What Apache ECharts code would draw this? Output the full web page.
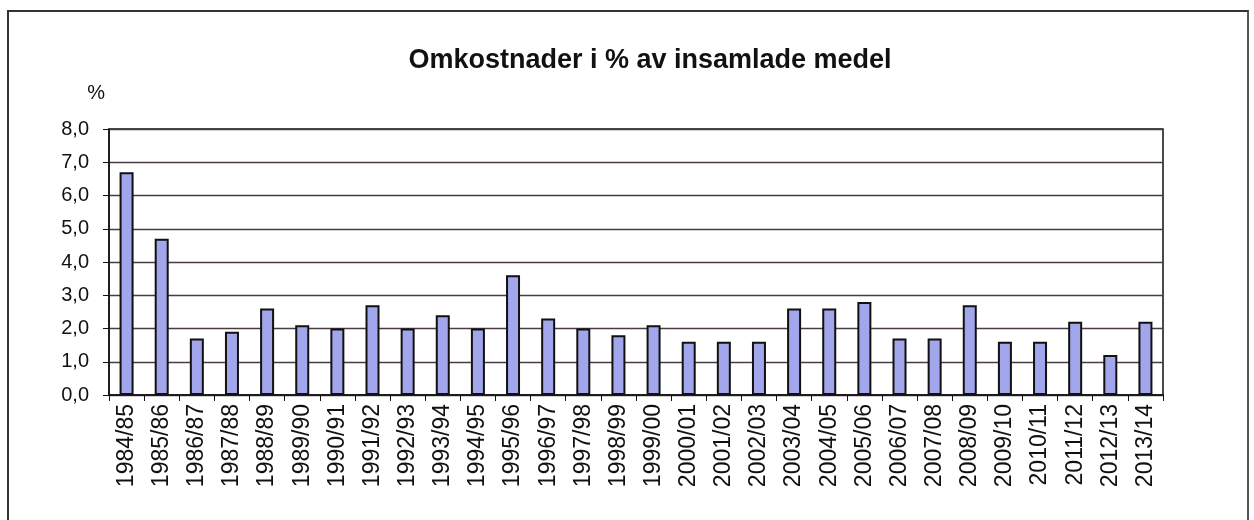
<!DOCTYPE html>
<html>
<head>
<meta charset="utf-8">
<script src="https://cdn.jsdelivr.net/npm/echarts@6/dist/echarts.min.js"></script>
<style>
  html, body { margin: 0; padding: 0; background: #fff; }
  #frame {
    position: absolute; left: 7px; top: 10px; width: 1242px; height: 520px;
    border-left: 2px solid #333; border-top: 2px solid #333; border-right: 2px solid #555;
    box-sizing: border-box;
  }
  #chart { position: absolute; left: 0; top: 0; width: 1254px; height: 520px; }
</style>
</head>
<body>
<div id="frame"></div>
<div id="chart"></div>
<script>
// år (verksamhetsår)
var years = [
  "1984/85", "1985/86", "1986/87", "1987/88", "1988/89", "1989/90",
  "1990/91", "1991/92", "1992/93", "1993/94", "1994/95", "1995/96",
  "1996/97", "1997/98", "1998/99", "1999/00", "2000/01", "2001/02",
  "2002/03", "2003/04", "2004/05", "2005/06", "2006/07", "2007/08",
  "2008/09", "2009/10", "2010/11", "2011/12", "2012/13", "2013/14"
];
// omkostnader i %
var costPct = [
  6.7, 4.7, 1.7, 1.9, 2.6, 2.1,
  2.0, 2.7, 2.0, 2.4, 2.0, 3.6,
  2.3, 2.0, 1.8, 2.1, 1.6, 1.6,
  1.6, 2.6, 2.6, 2.8, 1.7, 1.7,
  2.7, 1.6, 1.6, 2.2, 1.2, 2.2
];
var yMin = 0, yMax = 8, yStep = 1;

var chart = echarts.init(document.getElementById("chart"), null, { renderer: "canvas" });
var font = "Liberation Sans, Arial, sans-serif";

chart.setOption({
  animation: false,
  title: {
    text: "Omkostnader i % av insamlade medel",
    left: 645,
    textAlign: "center",
    top: 42,
    textStyle: { fontFamily: font, fontSize: 27, fontWeight: "bold", color: "#111" }
  },
  grid: {
    left: 109, right: 91, top: 129, bottom: 125,
    show: true, borderColor: "#111", borderWidth: 1.5, backgroundColor: "transparent"
  },
  xAxis: {
    type: "category",
    data: years,
    boundaryGap: true,
    axisLine: { lineStyle: { color: "#111", width: 1.5 } },
    axisTick: { show: true, alignWithLabel: false, length: 6, lineStyle: { color: "#111" } },
    axisLabel: {
      rotate: 90, interval: 0, margin: 9,
      fontFamily: font, fontSize: 23, color: "#111"
    }
  },
  yAxis: {
    type: "value",
    name: "%",
    nameLocation: "end",
    nameGap: 26,
    nameTextStyle: { fontFamily: font, fontSize: 20, color: "#111", align: "right", padding: [0, 4, 0, 0] },
    min: yMin, max: yMax, interval: yStep,
    axisLine: { show: true, lineStyle: { color: "#111", width: 1.5 } },
    axisTick: { show: true, length: 6, lineStyle: { color: "#111" } },
    axisLabel: {
      margin: 20, fontFamily: font, fontSize: 20, color: "#111",
      formatter: function (v) { return v.toFixed(1).replace(".", ","); }
    },
    splitLine: { show: true, lineStyle: { color: "#4a3a44", width: 1.3 } }
  },
  series: [{
    type: "bar",
    data: costPct,
    barWidth: 14,
    itemStyle: { color: "#a2a6ea", borderColor: "#111", borderWidth: 2 }
  }]
});
</script>
</body>
</html>
